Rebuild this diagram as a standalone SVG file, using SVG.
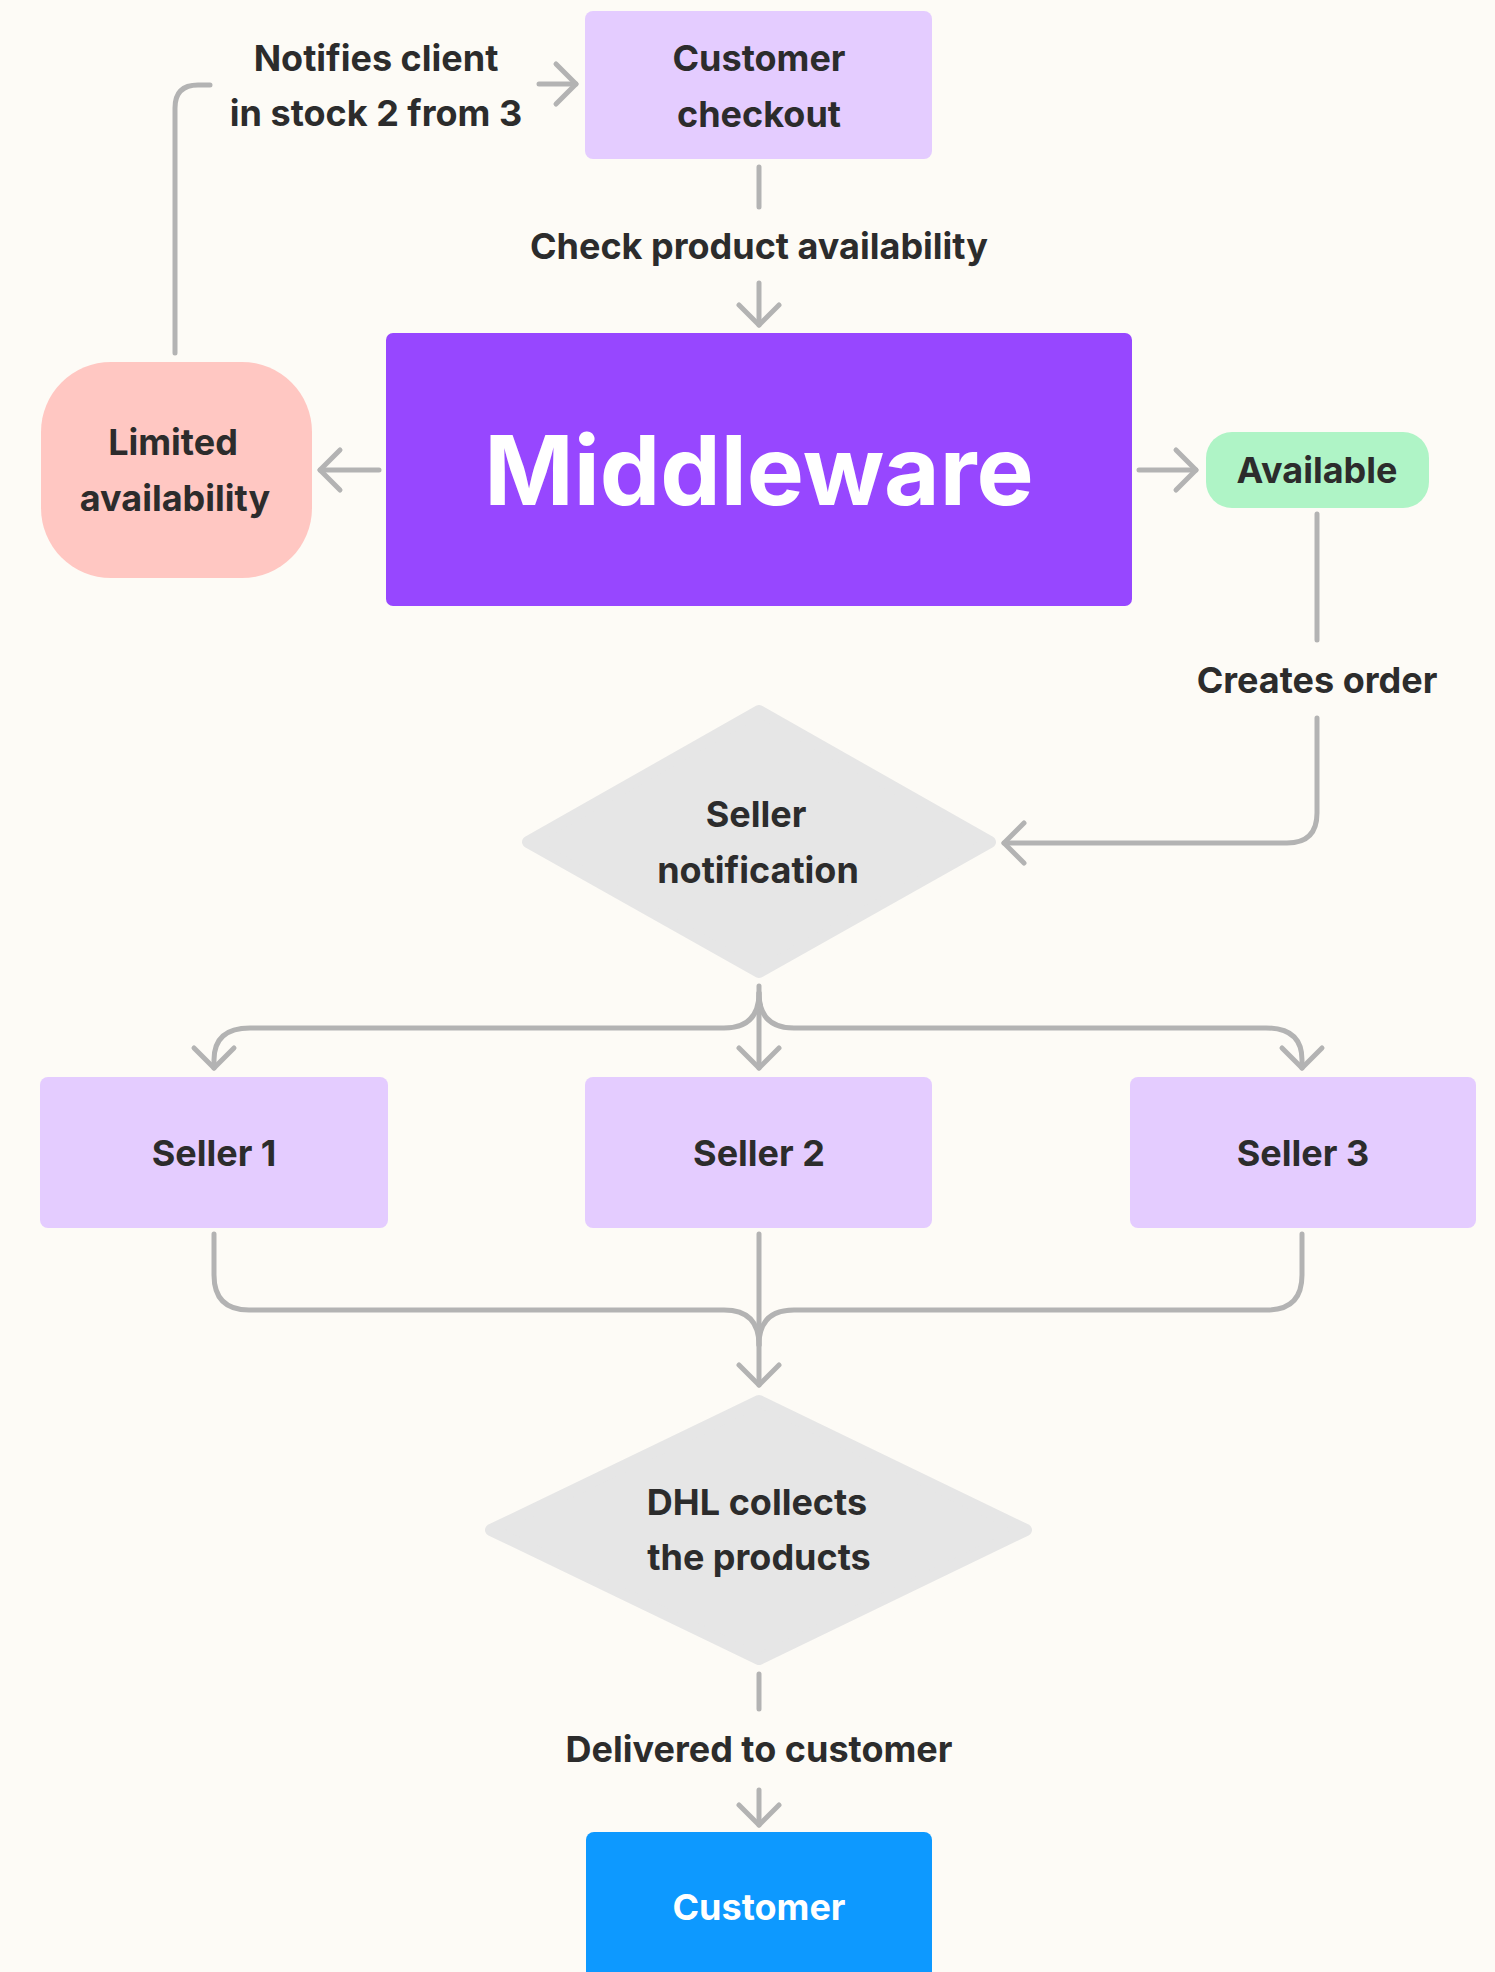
<svg xmlns="http://www.w3.org/2000/svg" width="1495" height="1972" viewBox="0 0 1495 1972">
<defs>
<style>
.t{font-family:Inter,"Noto Sans","Liberation Sans",sans-serif;font-weight:700;font-size:36px;fill:#2C2C2C;text-anchor:middle}
.w{fill:#FFFFFF}
.c{fill:none;stroke:#B3B3B3;stroke-width:5;stroke-linecap:round;stroke-linejoin:round}
.lav{fill:#E4CCFF}
</style>
<marker id="arr" markerUnits="userSpaceOnUse" markerWidth="60" markerHeight="60" viewBox="-30 -30 60 60" refX="0" refY="0" orient="auto">
<path d="M-20,-20 L0,0 L-20,20" fill="none" stroke="#B3B3B3" stroke-width="5" stroke-linecap="round" stroke-linejoin="round"/>
</marker>
</defs>
<rect width="1495" height="1972" fill="#FDFBF6"/>

<g id="connectors">
<path class="c" d="M175,353 V108 Q175,85 198,85 H210"/>
<path class="c" d="M539,84 H576" marker-end="url(#arr)"/>
<path class="c" d="M759,167 V207"/>
<path class="c" d="M759,283 V325" marker-end="url(#arr)"/>
<path class="c" d="M379,470 H320" marker-end="url(#arr)"/>
<path class="c" d="M1139,470 H1196" marker-end="url(#arr)"/>
<path class="c" d="M1317,514 V640"/>
<path class="c" d="M1317,718 V813 Q1317,843 1287,843 H1004" marker-end="url(#arr)"/>
<path class="c" d="M759,986 V1068" marker-end="url(#arr)"/>
<path class="c" d="M759,993 Q759,1028 724,1028 H250 Q214,1028 214,1060 V1068" marker-end="url(#arr)"/>
<path class="c" d="M759,993 Q759,1028 794,1028 H1266 Q1302,1028 1302,1060 V1068" marker-end="url(#arr)"/>
<path class="c" d="M214,1234 V1275 Q214,1310 249,1310 H724 Q759,1310 759,1345"/>
<path class="c" d="M1302,1234 V1275 Q1302,1310 1267,1310 H794 Q759,1310 759,1345"/>
<path class="c" d="M759,1234 V1385" marker-end="url(#arr)"/>
<path class="c" d="M759,1674 V1709"/>
<path class="c" d="M759,1790 V1825" marker-end="url(#arr)"/>
<text class="t" x="376" y="71">Notifies client</text>
<text class="t" x="376" y="126">in stock 2 from 3</text>
<text class="t" x="759" y="259">Check product availability</text>
<text class="t" x="1317" y="693">Creates order</text>
<text class="t" x="759" y="1762">Delivered to customer</text>
</g>

<g id="customer-checkout">
<rect class="lav" x="585" y="11" width="347" height="148" rx="8"/>
<text class="t" x="759" y="71">Customer</text>
<text class="t" x="759" y="127">checkout</text>
</g>

<g id="middleware">
<rect x="386" y="333" width="746" height="273" rx="7" fill="#9747FF"/>
<text class="t w" x="759" y="505" style="font-size:96px;font-weight:700">Middleware</text>
</g>

<g id="limited-availability">
<rect x="41" y="362" width="271" height="216" rx="70" fill="#FFC7C2"/>
<text class="t" x="173" y="455">Limited</text>
<text class="t" x="175" y="511">availability</text>
</g>

<g id="available">
<rect x="1206" y="432" width="223" height="76" rx="26" fill="#AFF4C6"/>
<text class="t" x="1317" y="483">Available</text>
</g>

<g id="seller-notification">
<polygon points="759,711 990,842 759,972 528,842" fill="#E6E6E6" stroke="#E6E6E6" stroke-width="12" stroke-linejoin="round"/>
<text class="t" x="756" y="827">Seller</text>
<text class="t" x="758" y="883">notification</text>
</g>

<g id="seller-1">
<rect class="lav" x="40" y="1077" width="348" height="151" rx="8"/>
<text class="t" x="214" y="1166">Seller 1</text>
</g>
<g id="seller-2">
<rect class="lav" x="585" y="1077" width="347" height="151" rx="8"/>
<text class="t" x="759" y="1166">Seller 2</text>
</g>
<g id="seller-3">
<rect class="lav" x="1130" y="1077" width="346" height="151" rx="8"/>
<text class="t" x="1303" y="1166">Seller 3</text>
</g>

<g id="dhl">
<polygon points="759,1401 1026,1530 759,1659 491,1530" fill="#E6E6E6" stroke="#E6E6E6" stroke-width="12" stroke-linejoin="round"/>
<text class="t" x="757" y="1515">DHL collects</text>
<text class="t" x="759" y="1570">the products</text>
</g>

<g id="customer">
<rect x="586" y="1832" width="346" height="200" rx="8" fill="#0D99FF"/>
<text class="t w" x="759" y="1920">Customer</text>
</g>
</svg>
